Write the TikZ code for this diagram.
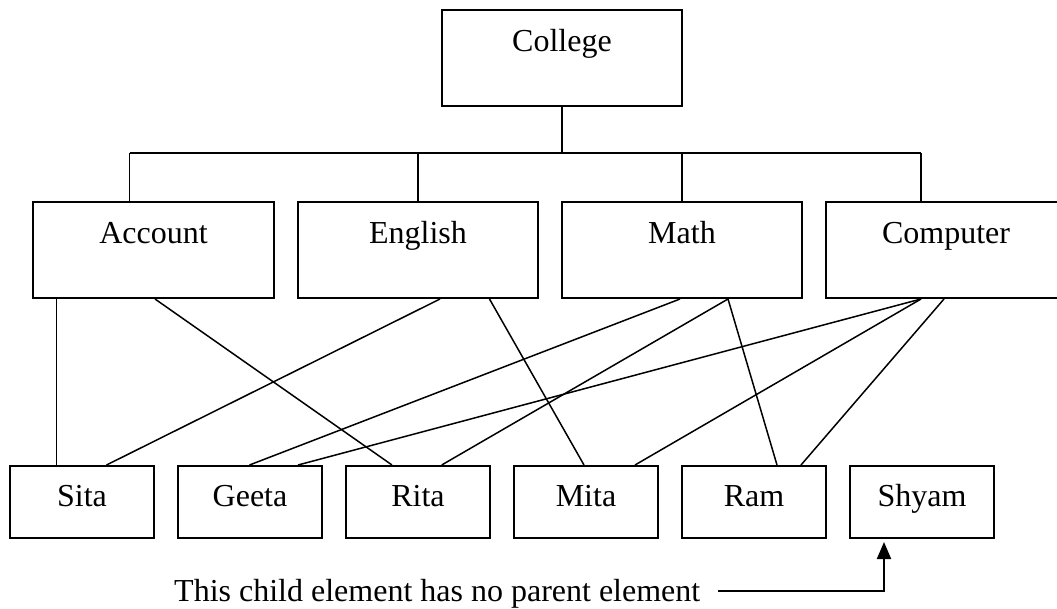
\documentclass[tikz,border=0pt]{standalone}
\usepackage{fontspec}
\setmainfont{Liberation Serif}
\usetikzlibrary{arrows.meta}
\begin{document}
\begin{tikzpicture}[x=1pt,y=-1pt,
  font=\fontsize{32}{38}\selectfont,
  topbox/.style={draw, line width=2pt, anchor=north west, inner sep=0pt,
    minimum width=240pt, text height=41pt, text depth=55pt},
  childbox/.style={draw, line width=2pt, anchor=north west, inner sep=0pt,
    minimum width=144pt, text height=40pt, text depth=32pt},
  link/.style={line width=1.5pt},
  bus/.style={line width=2pt}]
\useasboundingbox (0,0) rectangle (1057,608);
\clip (0,0) rectangle (1057,608);

% root and departments
\node[topbox] (college) at (441,9) {College};
\node[topbox, minimum width=241pt] (account) at (32,201) {Account};
\node[topbox] (english) at (297,201) {English};
\node[topbox] (math) at (561,201) {Math};
\node[topbox] (computer) at (825,201) {Computer};

% students
\node[childbox] (sita) at (9,465) {Sita};
\node[childbox] (geeta) at (177,465) {Geeta};
\node[childbox] (rita) at (345,465) {Rita};
\node[childbox] (mita) at (513,465) {Mita};
\node[childbox] (ram) at (681,465) {Ram};
\node[childbox] (shyam) at (849,465) {Shyam};

% tree from college to departments
\coordinate (busL) at (129.5,153);
\coordinate (busR) at (921,153);
\draw[link] (college.south) -- (college.south |- busL);
\draw[bus] (busL) -- (busR);
\draw[link] (busL) -- (busL |- account.north);
\draw[link] (english.north) -- (english.north |- busL);
\draw[link] (math.north) -- (math.north |- busL);
\draw[link] (busR) -- (busR |- computer.north);

% department to student links
\draw[link] ([xshift=24.6pt]account.south west) -- ([xshift=47.6pt]sita.north west);
\draw[link] ([xshift=123pt]account.south west) -- ([xshift=47pt]rita.north west);
\draw[link] ([xshift=143pt]english.south west) -- ([xshift=97.5pt]sita.north west);
\draw[link] ([xshift=192.5pt]english.south west) -- ([xshift=71pt]mita.north west);
\draw[link] ([xshift=119pt]math.south west) -- ([xshift=72.5pt]geeta.north west);
\draw[link] ([xshift=167pt]math.south west) -- ([xshift=96.7pt]rita.north west);
\draw[link] ([xshift=167pt]math.south west) -- ([xshift=96pt]ram.north west);
\draw[link] ([xshift=96pt]computer.south west) -- ([xshift=121pt]geeta.north west);
\draw[link] ([xshift=96pt]computer.south west) -- ([xshift=122pt]mita.north west);
\draw[link] ([xshift=119pt]computer.south west) -- ([xshift=120pt]ram.north west);

% note pointing at the orphan child
\node[anchor=base west, inner sep=0pt] (note) at (174,601) {This child element has no parent element};
\coordinate (noteend) at (718,591);
\draw[bus, -{Triangle[length=17pt,width=14pt]}] (noteend) -| ([xshift=35pt,yshift=-3pt]shyam.south west);
\end{tikzpicture}
\end{document}
